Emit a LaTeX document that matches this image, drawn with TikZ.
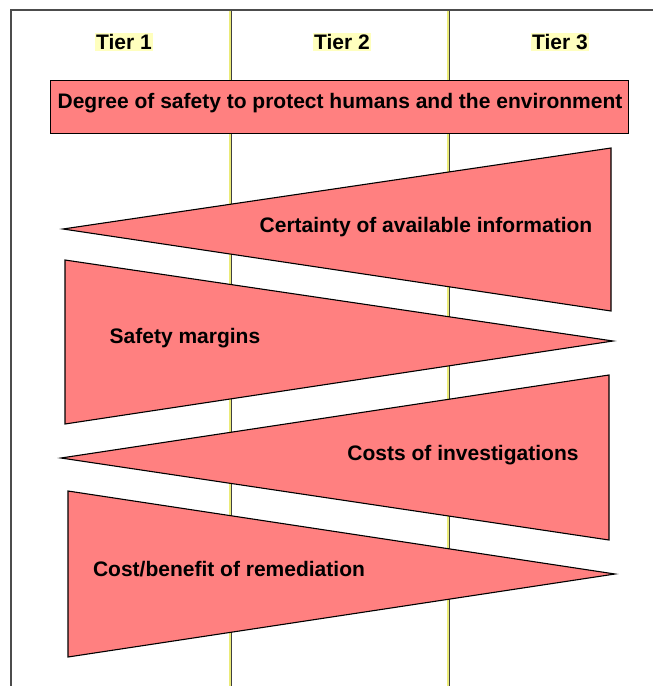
\documentclass[tikz,border=0pt]{standalone}
\usepackage{fontspec}
\setmainfont{Liberation Sans}
\definecolor{wedge}{RGB}{255,128,128}
\definecolor{tierbg}{RGB}{255,255,190}
\definecolor{tierline}{RGB}{235,235,120}
\tikzset{
  wedgebox/.style={fill=wedge,draw=black,line width=1.1pt,line join=miter},
  lbl/.style={font=\fontsize{21}{24}\selectfont\bfseries,inner sep=1pt},
  tierlbl/.style={lbl,fill=tierbg,inner sep=1.5pt}
}
\begin{document}
\begin{tikzpicture}[x=1pt,y=-1pt]
        \useasboundingbox (0,0) rectangle (653,686);
        \draw[line width=1.5pt,black!70] (11,686) -- (11,10) -- (653,10);
        \foreach \x in {230,448} {
          \draw[line width=1.5pt,tierline] (\x,11) -- (\x,686);
          \draw[line width=1pt,black!75] (\x+1.5,11) -- (\x+1.5,686);
        }
        \foreach \x/\n in {124/1,342/2,560/3} \node[tierlbl](t\n)at(\x,42){Tier \n};
        \node[wedgebox,line width=0.9pt,minimum width=578,minimum height=53,inner sep=0pt](banner)at(339,106.5){};
        \node[lbl](bannertxt)at(340,103){Degree of safety to protect humans and the environment};
        % wedges
        \draw[wedgebox](63,229)--(611,148)--(611,311)--cycle;
        \draw[wedgebox](65,260)--(613,341)--(65,424)--cycle;
        \draw[wedgebox](61,458)--(609,375)--(609,540)--cycle;
        \draw[wedgebox](68,491)--(615,574)--(68,657)--cycle;
        \node[lbl](cert)at(426,227){Certainty of available information};
        \node[lbl](safe)at(185,338){Safety margins};
        \node[lbl](cost)at(463,455){Costs of investigations};
        \node[lbl](remed)at(229,569){Cost/benefit of remediation};
    \end{tikzpicture}
\end{document}
